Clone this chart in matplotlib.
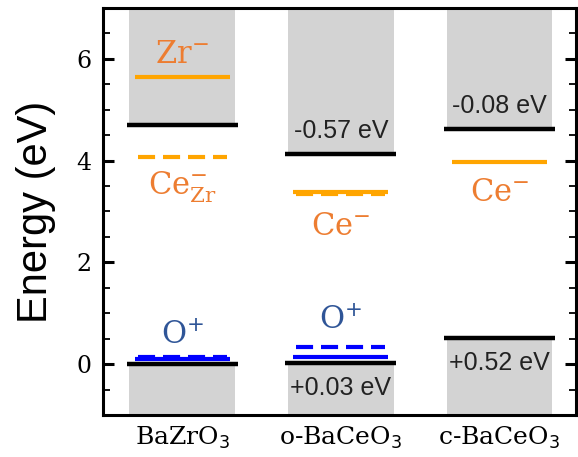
import matplotlib
matplotlib.use("Agg")
import matplotlib.pyplot as plt
from matplotlib.ticker import MultipleLocator

materials = ["BaZrO$_3$", "o-BaCeO$_3$", "c-BaCeO$_3$"]
vbm = [0.0, 0.03, 0.52]
cbm = [4.70, 4.13, 4.63]
cb_offset_labels = [None, "-0.57 eV", "-0.08 eV"]
vb_offset_labels = [None, "+0.03 eV", "+0.52 eV"]

# acceptor/donor levels (eV)
cation_solid = [5.65, 3.38, 3.98]
cation_dashed = [4.08, 3.35, None]
cation_labels = ["Zr$^{-}$", "Ce$^{-}$", "Ce$^{-}$"]
cation_label_y = [5.92, 2.53, 3.2]
ce_zr_label = "Ce$^{-}_{\\mathregular{Zr}}$"
ce_zr_label_y = 3.33
o_solid = [0.10, 0.13, None]
o_dashed = [0.13, 0.33, None]
o_labels = ["O$^{+}$", "O$^{+}$", None]
o_label_y = [0.39, 0.69, None]

ylo, yhi = -1, 7

fig = plt.figure(figsize=(5.78, 4.57), dpi=100)
ax = fig.add_axes([0.178, 0.092, 0.818, 0.8905])
ax.set_xlim(-0.5, 2.48)
ax.set_ylim(ylo, yhi)

serif = "DejaVu Serif"
sans = "Liberation Sans"
orange_txt = "#ED7D31"
blue_txt = "#2F5597"
ann_fs = 22
dash = (0, (4.1, 1.9))

bw = 0.667
lw_half = 0.35
for i in range(len(materials)):
    ax.bar(i, yhi - cbm[i], bottom=cbm[i], width=bw, color="#D3D3D3", zorder=1)
    ax.bar(i, vbm[i] - ylo, bottom=ylo, width=bw, color="#D3D3D3", zorder=1)
    ax.hlines([cbm[i], vbm[i]], i - lw_half, i + lw_half, colors="black", lw=3.2, zorder=3)
    if cation_solid[i] is not None:
        ax.hlines(cation_solid[i], i - 0.3, i + 0.3, colors="orange", lw=3, zorder=4)
    if cation_dashed[i] is not None:
        ax.hlines(cation_dashed[i], i - 0.28, i + 0.28, colors="orange", lw=3,
                  linestyles=dash, zorder=4)
    if o_solid[i] is not None:
        ax.hlines(o_solid[i], i - 0.3, i + 0.3, colors="blue", lw=3, zorder=4)
    if o_dashed[i] is not None:
        ax.hlines(o_dashed[i], i - 0.28, i + 0.28, colors="blue", lw=3,
                  linestyles=dash, zorder=4)
    if cb_offset_labels[i]:
        ax.text(i, cbm[i] + 0.45, cb_offset_labels[i], ha="center", va="center",
                fontsize=18, color="#222222", family=sans, zorder=5)
    if vb_offset_labels[i]:
        ax.text(i, vbm[i] - 0.5, vb_offset_labels[i], ha="center", va="center",
                fontsize=18, color="#222222", family=sans, zorder=5)
    if o_labels[i]:
        ax.text(i, o_label_y[i], o_labels[i], ha="center", va="baseline",
                fontsize=ann_fs, color=blue_txt, family=serif, zorder=5)

ax.text(0, cation_label_y[0], cation_labels[0], ha="center", va="baseline",
        fontsize=ann_fs, color=orange_txt, family=serif, zorder=5)
ax.text(0, ce_zr_label_y, ce_zr_label, ha="center", va="baseline",
        fontsize=ann_fs, color=orange_txt, family=serif, zorder=5)
for i in (1, 2):
    ax.text(i, cation_label_y[i], cation_labels[i], ha="center", va="baseline",
            fontsize=ann_fs, color=orange_txt, family=serif, zorder=5)

ax.set_xticks(range(len(materials)))
ax.set_xticklabels(materials, family=serif, fontsize=18)
ax.tick_params(axis="x", length=0, pad=7)
ax.yaxis.set_major_locator(MultipleLocator(2))
ax.yaxis.set_minor_locator(MultipleLocator(0.5))
ax.tick_params(axis="y", which="both", direction="in", left=True, right=True)
ax.tick_params(axis="y", which="major", length=8, width=2.2, labelsize=17, pad=8)
ax.tick_params(axis="y", which="minor", length=5, width=1.3)
for lab in ax.get_yticklabels():
    lab.set_family(serif)
for s in ax.spines.values():
    s.set_linewidth(2.2)
ax.set_ylabel("Energy (eV)", fontsize=30, family=sans, labelpad=15)

fig.savefig("out.png", dpi=100)
